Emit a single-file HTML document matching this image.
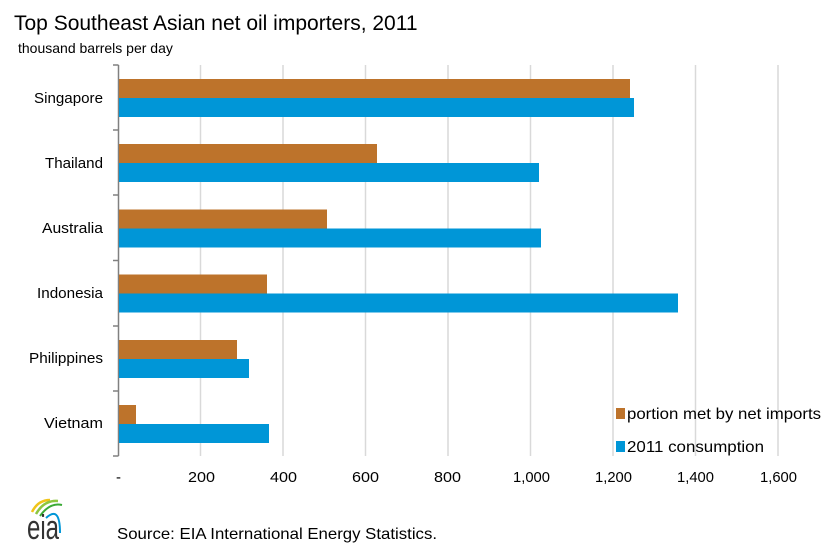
<!DOCTYPE html>
<html><head><meta charset="utf-8"><style>
body{margin:0;background:#fff;width:836px;height:552px;overflow:hidden}
text{font-family:"Liberation Sans",Arial,sans-serif}
</style></head><body>
<svg width="836" height="552" viewBox="0 0 836 552" xmlns="http://www.w3.org/2000/svg">
<text x="14" y="30" font-size="21" fill="#000">Top Southeast Asian net oil importers, 2011</text>
<text x="18" y="53" font-size="14" fill="#000">thousand barrels per day</text>
<g stroke="#d9d9d9" stroke-width="1.5">
<line x1="200.5" y1="65" x2="200.5" y2="456"/>
<line x1="283" y1="65" x2="283" y2="456"/>
<line x1="365.5" y1="65" x2="365.5" y2="456"/>
<line x1="448" y1="65" x2="448" y2="456"/>
<line x1="530.5" y1="65" x2="530.5" y2="456"/>
<line x1="613" y1="65" x2="613" y2="456"/>
<line x1="695.5" y1="65" x2="695.5" y2="456"/>
<line x1="778" y1="65" x2="778" y2="456"/>
</g>
<g stroke="#808080" stroke-width="1.5">
<line x1="118.5" y1="65" x2="118.5" y2="456"/>
<line x1="113" y1="65" x2="118.5" y2="65"/>
<line x1="113" y1="130" x2="118.5" y2="130"/>
<line x1="113" y1="195" x2="118.5" y2="195"/>
<line x1="113" y1="260.5" x2="118.5" y2="260.5"/>
<line x1="113" y1="326" x2="118.5" y2="326"/>
<line x1="113" y1="391" x2="118.5" y2="391"/>
<line x1="113" y1="456" x2="118.5" y2="456"/>
</g>
<g fill="#bd732b">
<rect x="119" y="79" width="511" height="19"/>
<rect x="119" y="144" width="258" height="19"/>
<rect x="119" y="209.5" width="208" height="19"/>
<rect x="119" y="274.5" width="148" height="19"/>
<rect x="119" y="340" width="118" height="19"/>
<rect x="119" y="405" width="17" height="19"/>
</g>
<g fill="#0096d7">
<rect x="119" y="98" width="515" height="19"/>
<rect x="119" y="163" width="420" height="19"/>
<rect x="119" y="228.5" width="422" height="19"/>
<rect x="119" y="293.5" width="559" height="19"/>
<rect x="119" y="359" width="130" height="19"/>
<rect x="119" y="424" width="150" height="19"/>
</g>
<g font-size="15" fill="#000">
<text x="34" y="103" textLength="69" lengthAdjust="spacingAndGlyphs">Singapore</text>
<text x="45" y="168" textLength="58" lengthAdjust="spacingAndGlyphs">Thailand</text>
<text x="42" y="233" textLength="61" lengthAdjust="spacingAndGlyphs">Australia</text>
<text x="37" y="298" textLength="66" lengthAdjust="spacingAndGlyphs">Indonesia</text>
<text x="29" y="363" textLength="74" lengthAdjust="spacingAndGlyphs">Philippines</text>
<text x="44" y="428" textLength="59" lengthAdjust="spacingAndGlyphs">Vietnam</text>
</g>
<g font-size="15" fill="#000">
<text x="116" y="482">-</text>
<text x="188" y="482" textLength="27" lengthAdjust="spacingAndGlyphs">200</text>
<text x="270" y="482" textLength="27" lengthAdjust="spacingAndGlyphs">400</text>
<text x="352" y="482" textLength="27" lengthAdjust="spacingAndGlyphs">600</text>
<text x="434" y="482" textLength="27" lengthAdjust="spacingAndGlyphs">800</text>
<text x="513" y="482" textLength="37" lengthAdjust="spacingAndGlyphs">1,000</text>
<text x="595" y="482" textLength="37" lengthAdjust="spacingAndGlyphs">1,200</text>
<text x="677" y="482" textLength="37" lengthAdjust="spacingAndGlyphs">1,400</text>
<text x="760" y="482" textLength="37" lengthAdjust="spacingAndGlyphs">1,600</text>
</g>
<rect x="616" y="408" width="9" height="11" fill="#bd732b"/>
<text x="627" y="419" font-size="16" textLength="194" lengthAdjust="spacingAndGlyphs">portion met by net imports</text>
<rect x="616" y="441" width="9" height="11" fill="#0096d7"/>
<text x="627" y="452" font-size="16" textLength="137" lengthAdjust="spacingAndGlyphs">2011 consumption</text>
<path d="M32 512 Q38 500 50 500" stroke="#f0c419" stroke-width="2.5" fill="none"/>
<path d="M36 514 Q44 500 58 501" stroke="#8dc63f" stroke-width="2.5" fill="none"/>
<path d="M40 516 Q50 502 62 505" stroke="#3aaa35" stroke-width="2" fill="none"/>
<path d="M46 518 Q60 505 60 533" stroke="#0096d7" stroke-width="2" fill="none"/>
<text x="27" y="539" font-size="34" font-family="Liberation Serif,serif" fill="#333" textLength="32" lengthAdjust="spacingAndGlyphs">eia</text>
<text x="117" y="539" font-size="16" textLength="320" lengthAdjust="spacingAndGlyphs">Source: EIA International Energy Statistics.</text>
</svg>
</body></html>
